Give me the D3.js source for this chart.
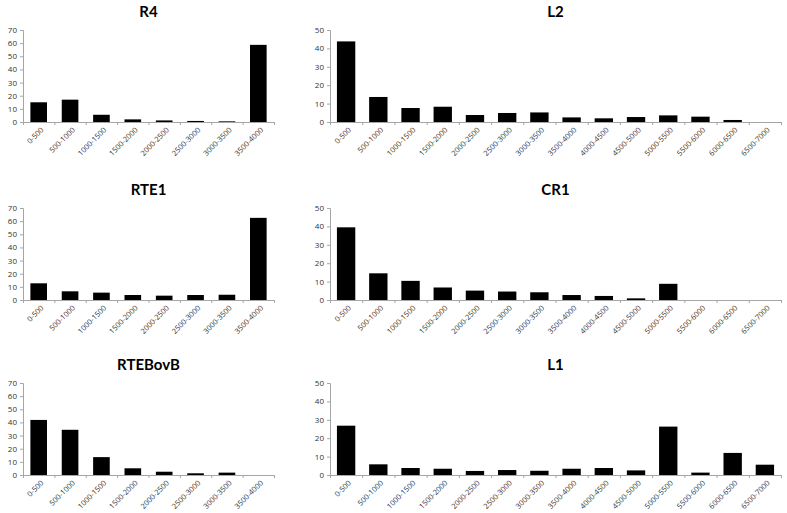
<!DOCTYPE html>
<html>
<head>
<meta charset="utf-8">
<script src="https://cdn.jsdelivr.net/npm/d3@7"></script>
<style>
  body { margin: 0; background: #fff; }
  svg { display: block; }
</style>
</head>
<body>
<div id="chart"></div>
<script>
// categories
const binsShort = ['0-500', '500-1000', '1000-1500', '1500-2000', '2000-2500', '2500-3000', '3000-3500', '3500-4000'];
const binsLong = ['0-500', '500-1000', '1000-1500', '1500-2000', '2000-2500', '2500-3000', '3000-3500',
  '3500-4000', '4000-4500', '4500-5000', '5000-5500', '5500-6000', '6000-6500', '6500-7000'];

// series values
const r4 = [15, 17, 5.5, 2, 1.2, 0.8, 0.5, 58.7];
const rte1 = [12.7, 6.6, 5.6, 3.8, 3.3, 3.8, 4, 62.5];
const rteBovB = [41.9, 34.4, 13.6, 5.1, 2.5, 1.3, 1.8, 0];
const l2 = [43.8, 13.6, 7.6, 8.3, 3.8, 4.9, 5.2, 2.5, 2, 2.7, 3.6, 2.9, 1.1, 0];
const cr1 = [39.5, 14.5, 10.4, 6.8, 5.1, 4.6, 4.2, 2.7, 2.2, 0.9, 8.8, 0, 0, 0];
const l1 = [26.8, 5.8, 3.8, 3.4, 2.2, 2.7, 2.3, 3.4, 3.8, 2.5, 26.3, 1.3, 12, 5.6];

// y axis maxima
const shortMax = 70;
const longMax = 50;

const W = 787, H = 513;
const svg = d3.select('#chart').append('svg').attr('width', W).attr('height', H);

const rowsTop = [30, 208, 383];
const plotH = 92;
const leftX = [23, 274];
const rightX = [330, 781];

const panels = [
  { title: 'R4', cats: binsShort, vals: r4, max: shortMax, xr: leftX, row: 0, pad: 0.47 },
  { title: 'RTE1', cats: binsShort, vals: rte1, max: shortMax, xr: leftX, row: 1, pad: 0.47 },
  { title: 'RTEBovB', cats: binsShort, vals: rteBovB, max: shortMax, xr: leftX, row: 2, pad: 0.47 },
  { title: 'L2', cats: binsLong, vals: l2, max: longMax, xr: rightX, row: 0, pad: 0.43 },
  { title: 'CR1', cats: binsLong, vals: cr1, max: longMax, xr: rightX, row: 1, pad: 0.43 },
  { title: 'L1', cats: binsLong, vals: l1, max: longMax, xr: rightX, row: 2, pad: 0.43 }
];

const axisColor = '#a6a6a6';
const textColor = '#333';

panels.forEach(p => {
  const top = rowsTop[p.row];
  const g = svg.append('g').attr('transform', `translate(0,${top})`);

  const x = d3.scaleBand().domain(p.cats).range(p.xr).paddingInner(p.pad).paddingOuter(p.pad / 2);
  const xEdge = d3.scaleLinear().domain([0, p.cats.length]).range(p.xr);
  const y = d3.scaleLinear().domain([0, p.max]).range([plotH, 0]);

  // title
  g.append('text')
    .attr('x', (p.xr[0] + p.xr[1]) / 2)
    .attr('y', -13)
    .attr('text-anchor', 'middle')
    .style('font-family', 'Lato, sans-serif')
    .style('font-weight', 'bold')
    .style('font-size', '15px')
    .style('fill', '#000')
    .text(p.title);

  // bars
  g.selectAll('rect.bar')
    .data(p.vals)
    .join('rect')
    .attr('class', 'bar')
    .attr('x', (d, i) => x(p.cats[i]))
    .attr('width', x.bandwidth())
    .attr('y', d => y(d))
    .attr('height', d => plotH - y(d))
    .attr('fill', '#000');

  // y axis
  const yAxis = g.append('g')
    .attr('transform', `translate(${p.xr[0]},0)`)
    .call(d3.axisLeft(y).ticks(p.max / 10).tickSize(3).tickPadding(3));
  yAxis.select('.domain').attr('stroke', axisColor);
  yAxis.selectAll('line').attr('stroke', axisColor);
  yAxis.selectAll('text')
    .style('font-family', '"Open Sans", sans-serif')
    .style('font-size', '8px')
    .style('fill', textColor);

  // x axis: boundary ticks
  const xTicks = g.append('g')
    .attr('transform', `translate(0,${plotH})`)
    .call(d3.axisBottom(xEdge).ticks(p.cats.length).tickSize(3).tickSizeOuter(0).tickFormat(''));
  xTicks.select('.domain').attr('stroke', axisColor);
  xTicks.selectAll('line').attr('stroke', axisColor);

  // x axis: category labels
  const xLab = g.append('g')
    .attr('transform', `translate(0,${plotH})`)
    .call(d3.axisBottom(x).tickSize(0).tickPadding(0));
  xLab.select('.domain').remove();
  xLab.selectAll('text')
    .attr('dy', null)
    .attr('y', 0)
    .attr('transform', 'translate(4,7) rotate(-45)')
    .attr('text-anchor', 'end')
    .attr('dominant-baseline', 'middle')
    .style('font-family', '"Open Sans", sans-serif')
    .style('font-size', '7.5px')
    .style('fill', textColor);
});
</script>
</body>
</html>
